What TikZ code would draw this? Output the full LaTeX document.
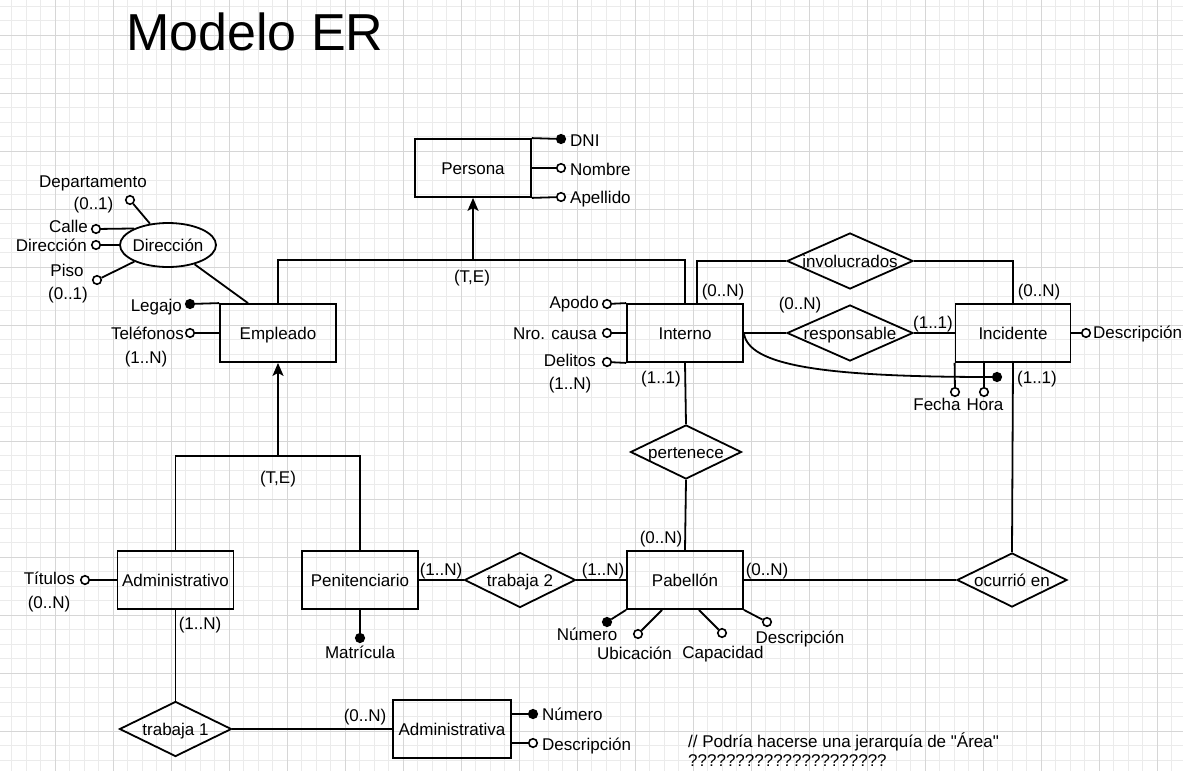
\documentclass[tikz,border=0pt]{standalone}
\usepackage{fontspec}
\setmainfont{Liberation Sans}[Ligatures=TeXOff]
\usetikzlibrary{shapes.geometric,arrows.meta,calc}
\newcommand{\erfont}{\fontsize{17}{20}\selectfont}
\tikzset{
  gminor/.style={black!8, line width=0.8pt},
  gmajor/.style={black!16, line width=0.8pt},
  ent/.style={draw, line width=1.8pt, minimum width=116pt, minimum height=58pt, inner sep=0pt, font=\erfont, text height=12pt, text depth=0pt},
  rel/.style={draw, diamond, line width=1.8pt, inner sep=0pt, font=\erfont, text height=12pt, text depth=0pt},
  lnk/.style={line width=1.8pt},
  opt/.style={circle, draw, line width=1.6pt, fill=white, minimum size=8.5pt, inner sep=0pt},
  key/.style={circle, draw, fill=black, line width=1.6pt, minimum size=8.5pt, inner sep=0pt},
  txt/.style={inner sep=0pt, font=\erfont, text height=12pt, text depth=0pt},
  isa/.style={line width=1.8pt, -{Stealth[length=13pt,width=11pt,inset=3pt]}},
}
\begin{document}
\begin{tikzpicture}[x=1pt,y=-1pt]
\useasboundingbox (0,0) rectangle (1183,771);
\fill[white] (0,0) rectangle (1183,771);
% grid
\begin{scope}
\clip (0,0) rectangle (1183,771);
\foreach \i in {0,...,82} \draw[gminor] ({-3+14.5*\i},0) -- ++(0,771);
\foreach \j in {0,...,55} \draw[gminor] (0,{-23+14.5*\j}) -- ++(1183,0);
\foreach \i in {0,...,21} \draw[gmajor] ({-3+58*\i},0) -- ++(0,771);
\foreach \j in {0,...,14} \draw[gmajor] (0,{-23+58*\j}) -- ++(1183,0);
\end{scope}

% title and comment
\node[anchor=base west, inner sep=0pt, font=\fontsize{52}{60}\selectfont] (title) at (126,50) {Modelo ER};
\node[anchor=base west, inner sep=0pt, font=\erfont] (cm1) at (688,747) {// Podría hacerse una jerarquía de "Área"};
\node[anchor=base west, inner sep=0pt, font=\erfont] (cm2) at (688,766) {?????????????????????};

% entities
\node[ent] (per) at (473,168) {Persona};
\node[ent] (emp) at (278,333) {Empleado};
\node[ent] (int) at (685,333) {Interno};
\node[ent, minimum width=115pt] (inc) at (1013,333) {Incidente};
\node[ent] (adm) at (175.5,580) {Administrativo};
\node[ent] (pen) at (360,580) {Penitenciario};
\node[ent] (pab) at (685,580) {Pabellón};
\node[ent, minimum width=118pt] (ava) at (452,729) {Administrativa};

% relationships
\node[rel, minimum width=126pt, minimum height=56pt] (inv) at (850,261) {\makebox[0pt]{involucrados}};
\node[rel, minimum width=126pt, minimum height=56pt] (resp) at (850,333) {\makebox[0pt]{responsable}};
\node[rel, minimum width=111pt, minimum height=54pt] (pert) at (686,452) {\makebox[0pt]{pertenece}};
\node[rel, minimum width=111pt, minimum height=55pt] (tr2) at (520,580) {\makebox[0pt]{trabaja 2}};
\node[rel, minimum width=110pt, minimum height=54pt] (ocu) at (1012,580) {\makebox[0pt]{ocurrió en}};
\node[rel, minimum width=112pt, minimum height=55pt] (tr1) at (175.5,729) {\makebox[0pt]{trabaja 1}};

% composite attribute
\node[draw, ellipse, line width=1.8pt, minimum width=96pt, minimum height=44pt, inner sep=0pt, font=\erfont, text height=12pt, text depth=0pt] (dir) at (168,245) {\makebox[0pt]{Dirección}};

% Persona attributes
\node[key] (dni) at (561,139) {};
\node[opt] (nom) at (561,168) {};
\node[opt] (ape) at (561,197) {};
\node[txt, anchor=west] (tdni) at (570,140) {DNI};
\node[txt, anchor=west] (tnom) at (570,169) {Nombre};
\node[txt, anchor=west] (tape) at (570,197) {Apellido};
\draw[lnk] (per.north east) -- (dni);
\draw[lnk] (per.east) -- (nom);
\draw[lnk] (per.south east) -- (ape);

% Empleado attributes
\node[key] (leg) at (190,304) {};
\node[opt] (tel) at (190,333) {};
\node[txt, anchor=east] (tleg) at (182,305) {Legajo};
\node[txt, anchor=east] (ttel) at (184,333) {Teléfonos};
\node[txt] (ttelc) at (146,357) {(1..N)};
\draw[lnk] (emp.north west) -- (leg);
\draw[lnk] (emp.west) -- (tel);
\draw[lnk] (dir) -- ([xshift=-30pt]emp.north);

% Direccion attributes
\node[opt] (dep) at (130,200) {};
\node[opt] (cal) at (96,229) {};
\node[opt] (dra) at (96,245) {};
\node[opt] (pis) at (97,280) {};
\node[txt] (tdep) at (93,181) {Departamento};
\node[txt] (tdepc) at (93.5,203) {(0..1)};
\node[txt, anchor=east] (tcal) at (88,226) {Calle};
\node[txt, anchor=east] (tdra) at (87,245) {Dirección};
\node[txt] (tpis) at (67,270) {Piso};
\node[txt] (tpisc) at (68,293) {(0..1)};
\draw[lnk] (dep) -- (dir);
\draw[lnk] (cal) -- (dir.154);
\draw[lnk] (dra) -- (dir.west);
\draw[lnk] (pis) -- (dir);

% Interno attributes
\node[opt] (apo) at (607,304) {};
\node[opt] (nro) at (607,333) {};
\node[opt] (del) at (607,362) {};
\node[txt, anchor=east] (tapo) at (599,302) {Apodo};
\node[txt, anchor=east] (tnro) at (597,333) {Nro. causa};
\node[txt, anchor=east] (tdel) at (596,360) {Delitos};
\node[txt] (tdelc) at (570,383) {(1..N)};
\draw[lnk] (int.north west) -- (apo);
\draw[lnk] (int.west) -- (nro);
\draw[lnk] (int.south west) -- (del);

% Incidente attributes
\node[opt] (des) at (1086,333) {};
\node[txt, anchor=west] (tdes) at (1093,332) {Descripción};
\node[opt] (fec) at (955,392) {};
\node[opt] (hor) at (984,392) {};
\node[key] (ck) at (997,377) {};
\node[txt] (tfec) at (937,404) {Fecha};
\node[txt] (thor) at (985,404) {Hora};
\draw[lnk] (inc.east) -- (des);
\draw[lnk] (inc.south west) -- (fec);
\draw[lnk] (hor |- inc.south) -- (hor);
\draw[lnk] (int.east) .. controls (748,365) and (820,377) .. (ck);

% Pabellon attributes
\node[key] (pnum) at (607,622) {};
\node[opt] (pubi) at (638,634) {};
\node[opt] (pcap) at (722,633) {};
\node[opt] (pdes) at (767,622) {};
\node[txt] (tpnum) at (587,634) {Número};
\node[txt] (tpubi) at (634.5,653) {Ubicación};
\node[txt] (tpcap) at (723,652) {Capacidad};
\node[txt] (tpdes) at (800,637) {Descripción};
\draw[lnk] (pab.south west) -- (pnum);
\draw[lnk] ([xshift=36pt]pab.south west) -- (pubi);
\draw[lnk] ([xshift=-45pt]pab.south east) -- (pcap);
\draw[lnk] (pab.south east) -- (pdes);

% Administrativo / Penitenciario attributes
\node[opt] (tit) at (85,580) {};
\node[txt, anchor=east] (ttit) at (75,578) {Títulos};
\node[txt] (ttitc) at (49,602) {(0..N)};
\node[key] (mat) at (360,638) {};
\node[txt] (tmat) at (360,652) {Matrícula};
\draw[lnk] (adm.west) -- (tit);
\draw[lnk] (pen.south) -- (mat);

% Administrativa attributes
\node[key] (anum) at (533,714) {};
\node[opt] (ades) at (533,743) {};
\node[txt, anchor=west] (tanum) at (542,714) {Número};
\node[txt, anchor=west] (tades) at (542,744) {Descripción};
\draw[lnk] (ava.east |- anum) -- (anum);
\draw[lnk] (ava.east |- ades) -- (ades);

% relationship connectors
\draw[lnk] (inv.east) -| (inc.north);
\draw[lnk] ([xshift=12pt]int.north) |- (inv.west);
\draw[lnk] (int.east) -- (resp.west);
\draw[lnk] (resp.east) -- (inc.west);
\draw[lnk] (int.south) -- (pert.north);
\draw[lnk] (pert.south) -- (pab.north);
\draw[lnk] (inc.south) -- (ocu.north);
\draw[lnk] (pab.east) -- (ocu.west);
\draw[lnk] (pen.east) -- (tr2.west);
\draw[lnk] (tr2.east) -- (pab.west);
\draw[lnk] (adm.south) -- (tr1.north);
\draw[lnk] (tr1.east) -- (ava.west);

% generalizations
\coordinate (isaP) at (473,260);
\coordinate (isaE) at (278,456);
\draw[isa] (isaP) -- (per.south);
\draw[lnk] (emp.north) -- (emp.north |- isaP) -- (int.north |- isaP) -- (int.north);
\draw[isa] (isaE) -- (emp.south);
\draw[lnk] (adm.north) -- (adm.north |- isaE) -- (pen.north |- isaE) -- (pen.north);

% cardinalities
\node[txt] (c1) at (723,290) {(0..N)};
\node[txt] (c2) at (800,303) {(0..N)};
\node[txt] (c3) at (933,322) {(1..1)};
\node[txt] (c4) at (1039,290) {(0..N)};
\node[txt] (c5) at (661,377) {(1..1)};
\node[txt] (c6) at (1037,377) {(1..1)};
\node[txt] (c7) at (661,537) {(0..N)};
\node[txt] (c8) at (603,569) {(1..N)};
\node[txt] (c9) at (767,569) {(0..N)};
\node[txt] (c10) at (441,569) {(1..N)};
\node[txt] (c11) at (200,623) {(1..N)};
\node[txt] (c12) at (365,715) {(0..N)};
\node[txt] (te1) at (472,276) {(T,E)};
\node[txt] (te2) at (278,477) {(T,E)};
\end{tikzpicture}
\end{document}
